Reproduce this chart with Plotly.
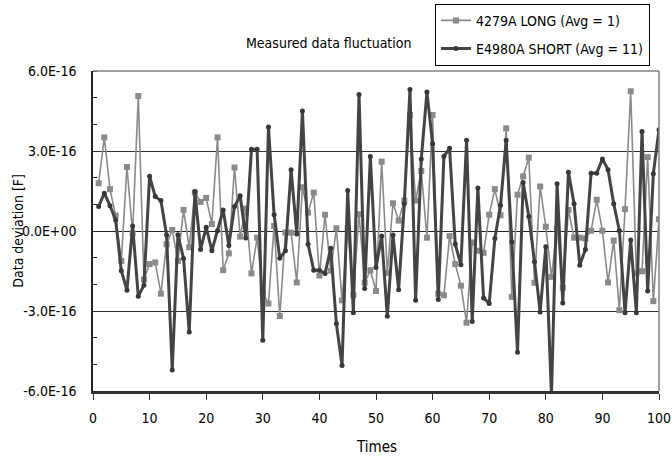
import plotly.graph_objects as go

times = list(range(1, 101))

# values in units of 1e-16 F
long_4279a = [
    1.79, 3.51, 1.57, 0.58, -1.12, 2.40, -0.09, 5.06, -1.82, -1.24,
    -1.18, -2.35, -0.50, 0.04, -1.12, 0.79, -0.61, 1.44, 1.09, 1.24,
    0.26, 3.51, -1.47, -0.84, 2.38, -0.21, 0.84, -1.59, -0.25, -2.31,
    -2.72, 0.19, -3.19, -0.06, -0.06, -1.93, 1.64, 0.69, 1.44, -1.67,
    0.61, -1.49, 0.10, -2.60, 0.10, -2.41, 0.63, -1.94, -1.47, -2.25,
    2.60, -1.57, 1.04, 0.39, 1.14, 4.35, 1.14, 2.25, -0.25, 4.35,
    -2.35, -2.41, -0.19, -1.24, -2.05, -3.44, -0.43, -0.74, -0.82, 0.61,
    1.57, 0.59, 3.85, -2.47, 1.36, 2.05, 2.75, -1.94, 1.67, 0.16,
    -1.72, 0.10, -2.13, 0.79, -0.25, -0.25, -0.28, 0.01, 1.17, 0.01,
    -1.93, -0.36, -2.97, 0.82, 5.24, -1.59, -1.51, 2.77, -2.63, 0.44,
]

short_e4980a = [
    0.92, 1.42, 0.95, 0.41, -1.49, -2.22, 0.19, -2.45, -2.03, 2.05,
    1.29, 1.14, -0.15, -5.21, -0.14, -1.03, -3.79, 1.48, -0.69, 0.14,
    -0.74, 0.01, 0.79, -0.54, 0.92, 1.32, -0.26, 3.07, 3.07, -4.10,
    3.90, 0.61, -1.02, -0.74, 2.30, -0.11, 4.50, -0.50, -1.47, -1.47,
    -1.59, -0.65, -3.48, -5.04, 1.52, -3.07, 5.12, -2.16, 2.79, -1.37,
    -0.19, -3.20, -0.15, -2.20, 1.02, 5.31, -2.60, 2.70, 5.21, 3.27,
    -2.57, 2.80, 3.10, -0.49, -1.27, 3.40, -3.39, 1.61, -2.51, -2.72,
    -0.28, 0.97, 3.40, -0.41, -4.55, 1.82, 0.54, -1.15, -3.04, -0.59,
    -6.15, 1.77, -2.70, 2.20, 1.02, -1.28, -0.69, 2.17, 2.17, 2.70,
    2.30, 1.02, 0.01, -3.07, -0.34, -3.07, 3.73, -2.25, 2.15, 3.80,
]

y_tick_vals = [-6e-16, -3e-16, 0, 3e-16, 6e-16]
y_tick_text = ["-6.0E-16", "-3.0E-16", "0.0E+00", "3.0E-16", "6.0E-16"]
x_tick_vals = [0, 10, 20, 30, 40, 50, 60, 70, 80, 90, 100]

FONT = "Liberation Sans Narrow, DejaVu Sans Condensed, Arial Narrow, sans-serif"

fig = go.Figure()
fig.add_trace(go.Scatter(
    x=times, y=[v * 1e-16 for v in long_4279a],
    mode="lines+markers", name="4279A LONG (Avg = 1)", legendgroup="a",
    line=dict(color="#8a8a8a", width=1.6),
    marker=dict(symbol="square", size=6, color="#8a8a8a"),
))
fig.add_trace(go.Scatter(
    x=times, y=[v * 1e-16 for v in short_e4980a],
    mode="lines+markers", name="E4980A SHORT (Avg = 11)", legendgroup="b",
    line=dict(color="#444444", width=3),
    marker=dict(symbol="circle", size=5, color="#383838"),
))

fig.update_layout(
    width=672, height=458,
    margin=dict(l=93, r=13, t=71, b=67, autoexpand=False),
    paper_bgcolor="white", plot_bgcolor="white",
    font=dict(family=FONT, size=14, color="black"),
    showlegend=True,
    legend=dict(
        x=0.984, y=1.21, xanchor="right", yanchor="top",
        bordercolor="black", borderwidth=1, bgcolor="white",
        font=dict(family=FONT, size=14, color="black"),
        tracegroupgap=7, itemwidth=30,
    ),
    xaxis=dict(
        range=[0, 100], tickvals=x_tick_vals,
        showline=True, linecolor="#333333", linewidth=2.5,
        ticks="outside", ticklen=6, tickcolor="#333333", tickwidth=1,
        showgrid=False, zeroline=False,
        ticklabelstandoff=6,
        tickfont=dict(family=FONT, size=14),
    ),
    yaxis=dict(
        range=[-6e-16, 6e-16], tickvals=y_tick_vals, ticktext=y_tick_text,
        showline=True, linecolor="#222222", linewidth=1.5,
        ticks="", showgrid=True, gridcolor="#333333", gridwidth=1,
        zeroline=True, zerolinecolor="#222222", zerolinewidth=1,
        ticklabelstandoff=12,
        tickfont=dict(family=FONT, size=14),
        minor=dict(dtick=1e-16, tick0=0, ticks="inside", ticklen=4,
                   tickcolor="#222222", showgrid=False),
    ),
    shapes=[
        dict(type="line", xref="paper", yref="paper", x0=0, x1=1, y0=1, y1=1,
             line=dict(color="#808080", width=1.5)),
        dict(type="line", xref="paper", yref="paper", x0=1, x1=1, y0=0, y1=1,
             line=dict(color="#808080", width=1.5)),
    ],
    annotations=[
        dict(text="Measured data fluctuation", xref="paper", yref="paper",
             x=0.5648, y=1.0876, xanchor="right", yanchor="middle",
             showarrow=False, font=dict(family=FONT, size=14)),
        dict(text="Data deviation [F]", xref="paper", yref="paper",
             x=-0.133, y=0.5, xanchor="center", yanchor="middle",
             textangle=-90, showarrow=False, font=dict(family=FONT, size=14)),
        dict(text="Times", xref="paper", yref="paper",
             x=0.5, y=-0.176, xanchor="center", yanchor="middle",
             showarrow=False, font=dict(family=FONT, size=15)),
    ],
)

fig.write_html(
    "out.html",
    config={"displayModeBar": False},
    post_script="document.body.style.margin='0';document.body.style.overflow='hidden';",
)
